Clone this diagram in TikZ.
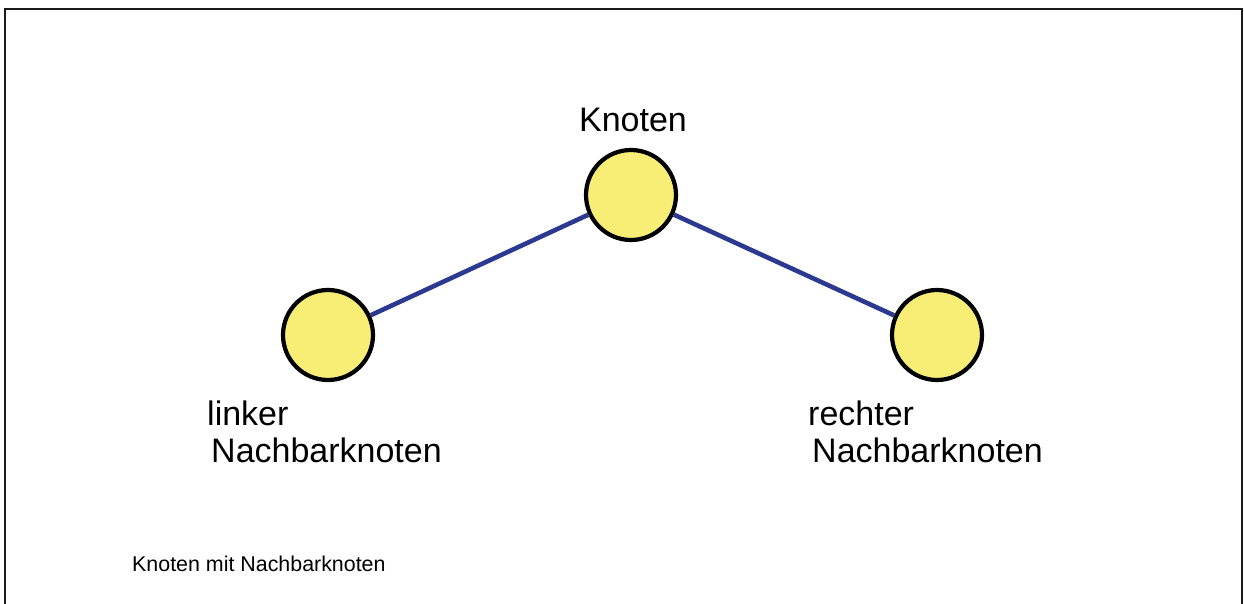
\documentclass[tikz,border=0pt]{standalone}
\usepackage{fontspec}
\setmainfont{Liberation Sans}
\usetikzlibrary{positioning}
\definecolor{frameink}{HTML}{1E1A1A}
\definecolor{edgeblue}{HTML}{2B3990}
\definecolor{nodefill}{HTML}{F8EE76}
\tikzset{
  vertex/.style={
    circle,
    draw=black,
    fill=nodefill,
    line width=4.2pt,
    minimum size=90pt,
    inner sep=0pt,
  },
  edge/.style={draw=edgeblue, line width=4.6pt},
  caption/.style={font=\fontsize{34}{37}\selectfont, align=left},
}

\begin{document}
\begin{tikzpicture}[x=1pt,y=-1pt]
  \useasboundingbox (0,0) rectangle (1244,604);
  \draw[frameink, line width=2.4pt] (5,604) -- (5,9) -- (1242,9) -- (1242,604);

  % knots
  \node[vertex] (mid) at (631,195) {};
  \node[vertex] (left) at (328,335) {};
  \node[vertex] (right) at (937,335) {};

  \draw[edge] (left) -- (mid);
  \draw[edge] (mid) -- (right);

  % labels
  \node[caption, anchor=base] (midlabel) at (633,132) {Knoten};
  \node[caption, anchor=base west, inner sep=0pt] (leftlabel) at (207,462) {linker\\\hspace{4pt}Nachbarknoten};
  \node[caption, anchor=base west, inner sep=0pt] (rightlabel) at (808,462) {rechter\\\hspace{4pt}Nachbarknoten};
  \node[font=\fontsize{21.4}{24}\selectfont, anchor=base west, inner sep=0pt] (title) at (132,571) {Knoten mit Nachbarknoten};
\end{tikzpicture}
\end{document}
